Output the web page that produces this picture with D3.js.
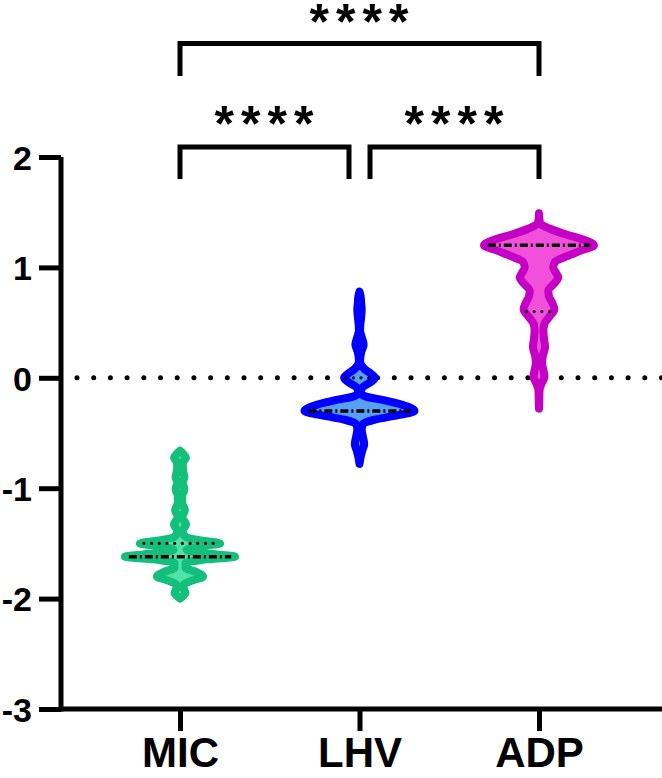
<!DOCTYPE html>
<html>
<head>
<meta charset="utf-8">
<script src="https://cdn.jsdelivr.net/npm/d3@7"></script>
<style>
  body { margin: 0; background: #fff; }
  svg text { font-family: "Liberation Sans", Arial, sans-serif; font-weight: bold; fill: #000; }
</style>
</head>
<body>
<div id="chart"></div>
<script>
// --- data ---
const groups = ["MIC", "LHV", "ADP"];
const yTicks = [-3, -2, -1, 0, 1, 2];

// violin outlines: [value, relative density]
const micProfile = [
  [-0.66, 0], [-0.69, 0.06], [-0.725, 0.11], [-0.76, 0.06], [-0.80, 0.05], [-0.85, 0.06],
  [-0.90, 0.08], [-0.95, 0.05], [-1.01, 0.08], [-1.07, 0.04], [-1.13, 0.04], [-1.20, 0.09],
  [-1.26, 0.04], [-1.33, 0.11], [-1.39, 0.05], [-1.44, 0.10], [-1.47, 0.35], [-1.50, 0.73],
  [-1.53, 0.30], [-1.56, 0.12], [-1.59, 0.45], [-1.62, 1.0], [-1.65, 0.40], [-1.68, 0.10],
  [-1.72, 0.10], [-1.76, 0.30], [-1.80, 0.42], [-1.84, 0.20], [-1.88, 0.06], [-1.91, 0.07],
  [-1.95, 0.10], [-1.98, 0.05], [-2.0, 0]
];
const lhvProfile = [
  [0.78, 0], [0.74, 0.02], [0.68, 0.03], [0.62, 0.04], [0.55, 0.03], [0.48, 0.015],
  [0.43, 0.01], [0.37, 0.04], [0.30, 0.075], [0.23, 0.03], [0.15, 0.01], [0.08, 0.09],
  [0.04, 0.20], [0.0, 0.28], [-0.04, 0.20], [-0.09, 0.05], [-0.14, 0.02], [-0.17, 0.12],
  [-0.20, 0.42], [-0.245, 0.78], [-0.30, 1.0], [-0.35, 0.58], [-0.38, 0.27], [-0.42, 0.06],
  [-0.47, 0.04], [-0.53, 0.06], [-0.60, 0.085], [-0.66, 0.05], [-0.72, 0.02], [-0.78, 0]
];
const adpProfile = [
  [1.49, 0], [1.45, 0.005], [1.40, 0.02], [1.35, 0.20], [1.30, 0.48], [1.25, 0.82],
  [1.20, 1.0], [1.15, 0.75], [1.10, 0.50], [1.05, 0.29], [1.00, 0.26], [0.95, 0.31],
  [0.91, 0.35], [0.85, 0.27], [0.79, 0.17], [0.74, 0.18], [0.68, 0.24], [0.62, 0.28],
  [0.56, 0.20], [0.49, 0.10], [0.43, 0.08], [0.36, 0.09], [0.28, 0.11], [0.20, 0.07],
  [0.135, 0.055], [0.07, 0.08], [0.01, 0.10], [-0.05, 0.05], [-0.11, 0.01], [-0.20, 0.005],
  [-0.28, 0]
];
const profiles = [micProfile, lhvProfile, adpProfile];

const medians = [-1.62, -0.30, 1.20];
const upperQuartiles = [-1.50, 0.00, 1.20];
const lowerQuartiles = [-1.62, -0.30, 0.60];

// significance brackets: [from, to, label, level]
const comparisons = [
  ["MIC", "LHV", "****", 0],
  ["LHV", "ADP", "****", 0],
  ["MIC", "ADP", "****", 1]
];

// --- styles ---
const strokeColors = ["#14bf7d", "#0000ff", "#c400c4"];
const fillColors = ["#4fe3a8", "#55a0f5", "#f24fdb"];

const W = 662, H = 778;
const svg = d3.select("#chart").append("svg")
  .attr("width", W).attr("height", H);

// --- scales ---
const y = d3.scaleLinear().domain([-3, 2]).range([709, 157]);
const x = d3.scalePoint().domain(groups).range([61, 658]).padding(0.663);
const halfW = d3.scaleLinear().domain([0, 1]).range([0, 55]);

// zero reference line (behind violins)
svg.append("line")
  .attr("x1", 77).attr("x2", W)
  .attr("y1", y(0)).attr("y2", y(0))
  .attr("stroke", "#000").attr("stroke-width", 5)
  .attr("stroke-linecap", "round")
  .attr("stroke-dasharray", "0,16.7");

// --- violins ---
const area = d3.area()
  .y(d => y(d[0]))
  .curve(d3.curveMonotoneY);

function widthAt(profile, v) {
  const pts = profile.slice().sort((a, b) => a[0] - b[0]);
  const i = d3.bisector(d => d[0]).left(pts, v);
  if (i <= 0) return pts[0][1];
  if (i >= pts.length) return pts[pts.length - 1][1];
  const a = pts[i - 1], b = pts[i];
  const t = (v - a[0]) / (b[0] - a[0]);
  return a[1] + t * (b[1] - a[1]);
}

const violins = svg.append("g").attr("class", "violins");

groups.forEach((g, i) => {
  const cx = x(g);
  violins.append("path")
    .datum(profiles[i])
    .attr("d", area.x0(d => cx - halfW(d[1])).x1(d => cx + halfW(d[1])))
    .attr("fill", fillColors[i])
    .attr("stroke", strokeColors[i])
    .attr("stroke-width", 8)
    .attr("stroke-linejoin", "round");

  // quartiles (dotted)
  [lowerQuartiles[i], upperQuartiles[i]].forEach(q => {
    if (q === medians[i]) return;
    const w = halfW(widthAt(profiles[i], q)) * 0.9;
    violins.append("line")
      .attr("x1", cx - w).attr("x2", cx + w)
      .attr("y1", y(q)).attr("y2", y(q))
      .attr("stroke", "#000").attr("stroke-width", 3.2)
      .attr("stroke-linecap", "round")
      .attr("stroke-dasharray", "0,7.7");
  });

  // median (dashed)
  const mw = halfW(widthAt(profiles[i], medians[i])) * 0.93;
  violins.append("line")
    .attr("x1", cx - mw).attr("x2", cx + mw)
    .attr("y1", y(medians[i])).attr("y2", y(medians[i]))
    .attr("stroke", "#000").attr("stroke-width", 3.5)
    .attr("stroke-dasharray", "8,3,2,3");
});

// --- axes ---
const yAxis = svg.append("g")
  .attr("transform", "translate(61,0)")
  .call(d3.axisLeft(y).tickValues(yTicks).tickFormat(d => String(d)).tickSize(22).tickSizeOuter(0).tickPadding(7));

const xAxis = svg.append("g")
  .attr("transform", "translate(0,709)")
  .call(d3.axisBottom(x).tickSize(22).tickSizeOuter(0).tickPadding(6));

xAxis.select(".domain").attr("d", "M61,0H" + W);
yAxis.select(".domain").attr("d", "M0," + y(2) + "V" + (y(-3) + 2.5));

[xAxis, yAxis].forEach(a => {
  a.select(".domain").attr("stroke", "#000").attr("stroke-width", 5);
  a.selectAll(".tick line").attr("stroke", "#000").attr("stroke-width", 5);
  a.selectAll(".tick text").attr("fill", "#000");
});
yAxis.selectAll(".tick text").style("font-size", "34px").attr("dy", "0.36em");
xAxis.selectAll(".tick text").style("font-size", "42px");

// --- significance brackets ---
const levels = [{ top: 147, bottom: 179, text: 141 }, { top: 43.5, bottom: 76, text: 39 }];
const brackets = svg.append("g").attr("class", "brackets");

comparisons.forEach(([a, b, label, lv]) => {
  const L = levels[lv];
  // adjacent brackets step back from the shared group
  let x1 = x(a), x2 = x(b);
  if (lv === 0 && a === "LHV") x1 += 10.5;
  if (lv === 0 && b === "LHV") x2 -= 10.5;
  brackets.append("path")
    .attr("d", `M${x1},${L.bottom}V${L.top}H${x2}V${L.bottom}`)
    .attr("fill", "none")
    .attr("stroke", "#000")
    .attr("stroke-width", 5);
  brackets.append("text")
    .attr("x", (x1 + x2) / 2 + 3)
    .attr("y", L.text)
    .attr("text-anchor", "middle")
    .attr("letter-spacing", 7)
    .style("font-size", "50px")
    .text(label);
});
</script>
</body>
</html>
